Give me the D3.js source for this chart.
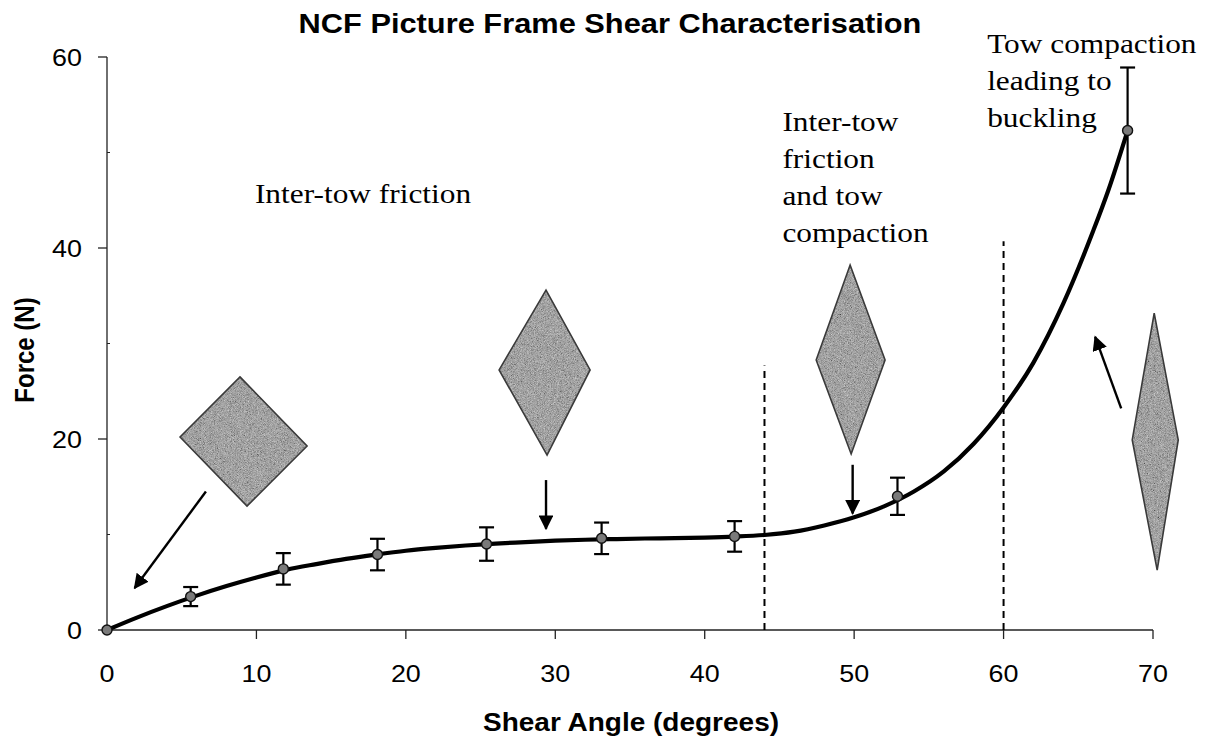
<!DOCTYPE html>
<html>
<head>
<meta charset="utf-8">
<script src="https://cdn.jsdelivr.net/npm/d3@7"></script>
<style>
  html, body { margin: 0; padding: 0; background: #fff; }
  svg { display: block; }
</style>
</head>
<body>
<svg id="chart" width="1207" height="741"></svg>
<script>
// Measured mean shear force with standard deviation at each frame angle
const shearAngle = [0, 5.6, 11.8, 18.1, 25.4, 33.1, 42.0, 52.9, 68.3];
const meanForce  = [0, 3.5, 6.4, 7.9, 9.0, 9.6, 9.8, 14.0, 52.3];
const forceError = [0, 1.0, 1.65, 1.65, 1.75, 1.65, 1.6, 1.95, 6.6];

// Fitted trend through the measurements
const trendAngle = [0, 2, 4, 6, 8, 10, 12, 14, 16, 18, 20, 22, 24, 26, 28, 30, 32, 34, 36, 38, 40, 42, 44, 46, 48, 50, 52, 54, 56, 58, 60, 62, 64, 66, 67, 68.3];
const trendForce = [0, 1.3, 2.5, 3.6, 4.6, 5.5, 6.3, 6.9, 7.45, 7.9, 8.3, 8.6, 8.85, 9.05, 9.2, 9.35, 9.45, 9.52, 9.58, 9.62, 9.68, 9.78, 9.95, 10.3, 10.95, 11.8, 12.95, 14.5, 16.6, 19.5, 23.3, 28.0, 34.2, 41.8, 46.0, 52.3];

// Axis ticks
const xTicks = [0, 10, 20, 30, 40, 50, 60, 70];
const yTicks = [0, 20, 40, 60];
const yMinorTicks = [10, 30, 50];

// Deformation regime boundaries (angle, top of dashed line in N)
const regimeAngle = [44, 60];
const regimeTop = [27.7, 40.7];

// Regime descriptions: anchor angle, anchor force, lines
const noteAngle = [9.9, 45.2, 58.9];
const noteForce = [44.7, 52.3, 60.4];
const noteLines = [
  ["Inter-tow friction"],
  ["Inter-tow", "friction", "and tow", "compaction"],
  ["Tow compaction", "leading to", "buckling"]
];

// Unit cell shape sketches, corner points as [angle, force]
const cellShapes = [
  [[8.9, 26.5], [13.39, 19.27], [9.37, 12.98], [4.89, 20.21]],
  [[29.38, 35.6], [32.33, 27.23], [29.45, 18.32], [26.24, 27.23]],
  [[49.73, 38.22], [52.07, 28.27], [49.8, 18.43], [47.46, 28.27]],
  [[70.08, 33.19], [71.69, 19.9], [70.28, 6.28], [68.61, 19.9]]
];

// Arrows from each sketch towards the curve: [tail, tip]
const arrowPaths = [
  [[6.62, 14.5], [1.85, 4.4]],
  [[29.38, 15.7], [29.38, 10.6]],
  [[49.9, 17.3], [49.9, 12.2]],
  [[67.87, 23.2], [66.13, 30.7]]
];

const svg = d3.select("#chart");
const stretch = 1.12;

const x = d3.scaleLinear().domain([0, 70]).range([107, 1153]);
const y = d3.scaleLinear().domain([0, 60]).range([630, 57]);

const defs = svg.append("defs");

// Halftone-like grain for the shaded shapes
const grain = defs.append("filter").attr("id", "grain")
  .attr("x", "-5%").attr("y", "-5%").attr("width", "110%").attr("height", "110%");
grain.append("feTurbulence").attr("type", "fractalNoise").attr("baseFrequency", 1.3)
  .attr("numOctaves", 2).attr("seed", 7).attr("result", "noise");
grain.append("feColorMatrix").attr("in", "noise").attr("type", "matrix")
  .attr("values", "0.33 0.33 0.33 0 0  0.33 0.33 0.33 0 0  0.33 0.33 0.33 0 0  0 0 0 0 1")
  .attr("result", "grayNoise");
grain.append("feComposite").attr("in", "SourceGraphic").attr("in2", "grayNoise")
  .attr("operator", "arithmetic").attr("k1", 0).attr("k2", 1).attr("k3", 1.1).attr("k4", -0.55).attr("result", "mix");
grain.append("feComposite").attr("in", "mix").attr("in2", "SourceGraphic").attr("operator", "in");

defs.append("marker").attr("id", "head")
  .attr("viewBox", "0 0 10 10").attr("refX", 9).attr("refY", 5)
  .attr("markerWidth", 6.2).attr("markerHeight", 6.2).attr("markerUnits", "strokeWidth")
  .attr("orient", "auto")
  .append("path").attr("d", "M0,0 L10,5 L0,10 Z").attr("fill", "#000");

function stretchedText(g, px, py, str, opts) {
  return g.append("text")
    .attr("transform", `translate(${px},${py}) scale(${stretch},1)`)
    .attr("text-anchor", opts.anchor || "start")
    .attr("font-family", opts.family || "'Liberation Sans', Arial, sans-serif")
    .attr("font-size", opts.size)
    .attr("font-weight", opts.weight || "normal")
    .attr("fill", "#000")
    .text(str);
}

// Title and axis titles
stretchedText(svg, 610, 33, "NCF Picture Frame Shear Characterisation", { anchor: "middle", size: 27.5, weight: "bold" });
stretchedText(svg, 631, 731, "Shear Angle (degrees)", { anchor: "middle", size: 25, weight: "bold" });
svg.append("text")
  .attr("transform", `translate(34,350) scale(${stretch},1) rotate(-90)`)
  .attr("text-anchor", "middle")
  .attr("font-family", "'Liberation Sans', Arial, sans-serif")
  .attr("font-size", 24).attr("font-weight", "bold")
  .text("Force (N)");

// Axes
const axisG = svg.append("g").attr("stroke", "#222").attr("stroke-width", 1.3);
axisG.append("line").attr("x1", x(0)).attr("x2", x(70)).attr("y1", y(0)).attr("y2", y(0));
axisG.append("line").attr("x1", x(0)).attr("x2", x(0)).attr("y1", y(0)).attr("y2", y(60));
axisG.selectAll(".xt").data(xTicks.filter(d => d > 0)).join("line")
  .attr("x1", d => x(d)).attr("x2", d => x(d)).attr("y1", y(0)).attr("y2", y(0) + 9);
axisG.selectAll(".yt").data(yTicks).join("line")
  .attr("x1", x(0) - 9).attr("x2", x(0)).attr("y1", d => y(d)).attr("y2", d => y(d));
axisG.selectAll(".ym").data(yMinorTicks).join("line")
  .attr("x1", x(0)).attr("x2", x(0) + 3).attr("y1", d => y(d)).attr("y2", d => y(d))
  .attr("stroke-width", 1);

xTicks.forEach(d => stretchedText(svg, x(d), y(0) + 52, String(d), { anchor: "middle", size: 24 }));
yTicks.forEach(d => stretchedText(svg, x(0) - 25, y(d) + 8.5, String(d), { anchor: "end", size: 24 }));

// Regime boundaries
svg.selectAll(".regime").data(regimeAngle).join("line")
  .attr("x1", d => x(d)).attr("x2", d => x(d))
  .attr("y1", y(0)).attr("y2", (d, i) => y(regimeTop[i]))
  .attr("stroke", "#000").attr("stroke-width", 2).attr("stroke-dasharray", "7,5");

// Shaded unit cell shapes
const shapeLine = d3.line().x(p => x(p[0])).y(p => y(p[1])).curve(d3.curveLinearClosed);
svg.selectAll(".cellFill").data(cellShapes).join("path")
  .attr("d", shapeLine).attr("fill", "#a2a2a2").attr("filter", "url(#grain)");
svg.selectAll(".cellEdge").data(cellShapes).join("path")
  .attr("d", shapeLine).attr("fill", "none").attr("stroke", "#3a3a3a").attr("stroke-width", 1.6);

// Arrows
svg.selectAll(".arrow").data(arrowPaths).join("line")
  .attr("x1", d => x(d[0][0])).attr("y1", d => y(d[0][1]))
  .attr("x2", d => x(d[1][0])).attr("y2", d => y(d[1][1]))
  .attr("stroke", "#000").attr("stroke-width", 2.4).attr("marker-end", "url(#head)");

// Trend curve
svg.append("path")
  .datum(trendAngle.map((a, i) => [a, trendForce[i]]))
  .attr("d", d3.line().x(p => x(p[0])).y(p => y(p[1])).curve(d3.curveMonotoneX))
  .attr("fill", "none").attr("stroke", "#000").attr("stroke-width", 4.2)
  .attr("stroke-linecap", "round");

// Error bars
const pts = shearAngle.map((a, i) => ({ a, f: meanForce[i], e: forceError[i] }));
const eb = svg.append("g").attr("stroke", "#000").attr("stroke-width", 2.2);
pts.filter(p => p.e > 0).forEach(p => {
  eb.append("line").attr("x1", x(p.a)).attr("x2", x(p.a)).attr("y1", y(p.f - p.e)).attr("y2", y(p.f + p.e));
  eb.append("line").attr("x1", x(p.a) - 7.5).attr("x2", x(p.a) + 7.5).attr("y1", y(p.f + p.e)).attr("y2", y(p.f + p.e));
  eb.append("line").attr("x1", x(p.a) - 7.5).attr("x2", x(p.a) + 7.5).attr("y1", y(p.f - p.e)).attr("y2", y(p.f - p.e));
});

// Measurement markers
svg.selectAll(".pt").data(pts).join("circle")
  .attr("cx", p => x(p.a)).attr("cy", p => y(p.f)).attr("r", 5)
  .attr("fill", "#7a7a7a").attr("stroke", "#111").attr("stroke-width", 1.4);

// Regime descriptions
noteLines.forEach((lines, i) => {
  lines.forEach((ln, j) => {
    stretchedText(svg, x(noteAngle[i]), y(noteForce[i]) + j * 37, ln,
      { size: 28, family: "'Liberation Serif', 'Times New Roman', serif" });
  });
});
</script>
</body>
</html>
